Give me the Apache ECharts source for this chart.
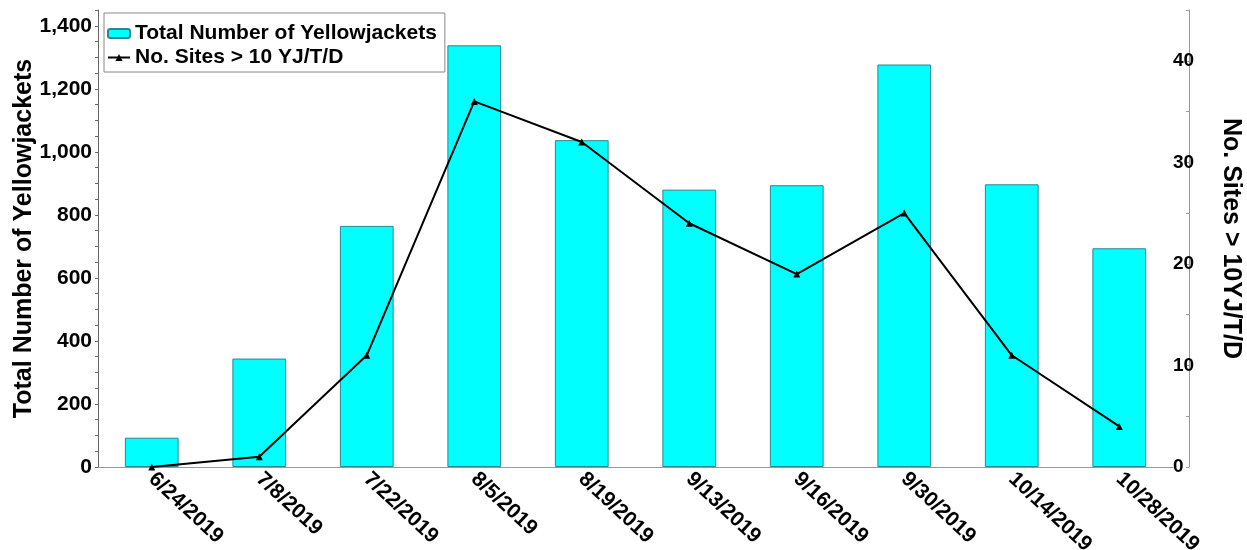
<!DOCTYPE html>
<html>
<head>
<meta charset="utf-8">
<script src="https://cdn.jsdelivr.net/npm/echarts@6/dist/echarts.min.js"></script>
<style>
html,body{margin:0;padding:0;background:#fff;}
#chart{width:1247px;height:550px;}
</style>
</head>
<body>
<div id="chart"></div>
<script>
const categories = ['6/24/2019','7/8/2019','7/22/2019','8/5/2019','8/19/2019','9/13/2019','9/16/2019','9/30/2019','10/14/2019','10/28/2019'];
const totalYellowjackets = [93, 344, 765, 1338, 1037, 880, 894, 1277, 897, 694];
const sitesOver10 = [0, 1, 11, 36, 32, 24, 19, 25, 11, 4];
const leftTickLabels = [0, 200, 400, 600, 800, 1000, 1200, 1400];
const leftTickMarks = [0,50,100,150,200,250,300,350,400,450,500,550,600,650,700,750,800,850,900,950,1000,1050,1100,1150,1200,1250,1300,1350,1400,1450];
const rightTickLabels = [0, 10, 20, 30, 40];
const rightTickMarks = [0, 5, 10, 15, 20, 25, 30, 35, 40, 45];

const FONT = 'Liberation Sans, Arial, sans-serif';
const chart = echarts.init(document.getElementById('chart'));
chart.setOption({
  animation: false,
  backgroundColor: '#fff',
  grid: { left: 98, right: 74, top: 10, bottom: 83, containLabel: false, outerBoundsMode: 'none' },
  legend: {
    left: 104, top: 13, orient: 'vertical',
    backgroundColor: '#fff', borderColor: '#888', borderWidth: 1,
    padding: [10, 8, 4, 3], itemGap: 3, itemWidth: 22, itemHeight: 9,
    textStyle: { fontFamily: FONT, fontSize: 21, fontWeight: 'bold', color: '#000' },
    data: ['Total Number of Yellowjackets', 'No. Sites > 10 YJ/T/D']
  },
  xAxis: [{
    type: 'category', data: categories, position: 'bottom',
    axisLine: { lineStyle: { color: '#999', width: 1 } },
    axisTick: { alignWithLabel: true, length: 5, lineStyle: { color: '#999' } },
    axisLabel: { rotate: -43, margin: 9, fontFamily: FONT, fontSize: 21, fontWeight: 'bold', color: '#000', interval: 0 }
  }, {
    type: 'category', data: categories, position: 'top',
    axisLine: { show: true, lineStyle: { color: '#999', width: 1 } },
    axisTick: { show: false }, axisLabel: { show: false }
  }],
  yAxis: [{
    type: 'value', min: 0, max: 1450, interval: 50, position: 'left',
    name: 'Total Number of Yellowjackets', nameLocation: 'middle', nameGap: 61, nameMoveOverlap: false,
    nameTextStyle: { fontFamily: FONT, fontSize: 25, fontWeight: 'bold', color: '#000' },
    axisLine: { show: true, lineStyle: { color: '#666', width: 1 } },
    axisTick: { show: true, length: 3, lineStyle: { color: '#666' }, customValues: leftTickMarks },
    axisLabel: { fontFamily: FONT, fontSize: 21, fontWeight: 'bold', color: '#000', margin: 6,
      customValues: leftTickLabels,
      formatter: v => v.toLocaleString('en-US') },
    splitLine: { show: false }
  }, {
    type: 'value', min: 0, max: 45, interval: 5, position: 'right', offset: 16,
    name: 'No. Sites > 10YJ/T/D', nameLocation: 'middle', nameGap: 29, nameRotate: -90, nameMoveOverlap: false,
    nameTextStyle: { fontFamily: FONT, fontSize: 25, fontWeight: 'bold', color: '#000' },
    axisLine: { show: true, lineStyle: { color: '#999', width: 1 } },
    axisTick: { show: true, inside: true, length: 3, lineStyle: { color: '#999' }, customValues: rightTickMarks },
    axisLabel: { fontFamily: FONT, fontSize: 19, fontWeight: 'bold', color: '#000', margin: -16,
      customValues: rightTickLabels },
    splitLine: { show: false }
  }],
  series: [{
    name: 'Total Number of Yellowjackets', type: 'bar', data: totalYellowjackets,
    barWidth: '50%', yAxisIndex: 0, xAxisIndex: 0,
    itemStyle: { color: '#00FFFF', borderColor: '#2a8890', borderWidth: 1 }
  }, {
    name: 'No. Sites > 10 YJ/T/D', type: 'line', data: sitesOver10,
    yAxisIndex: 1, xAxisIndex: 0,
    symbol: 'triangle', symbolSize: 7,
    lineStyle: { color: '#000', width: 2 },
    itemStyle: { color: '#000' }
  }]
});
</script>
</body>
</html>
